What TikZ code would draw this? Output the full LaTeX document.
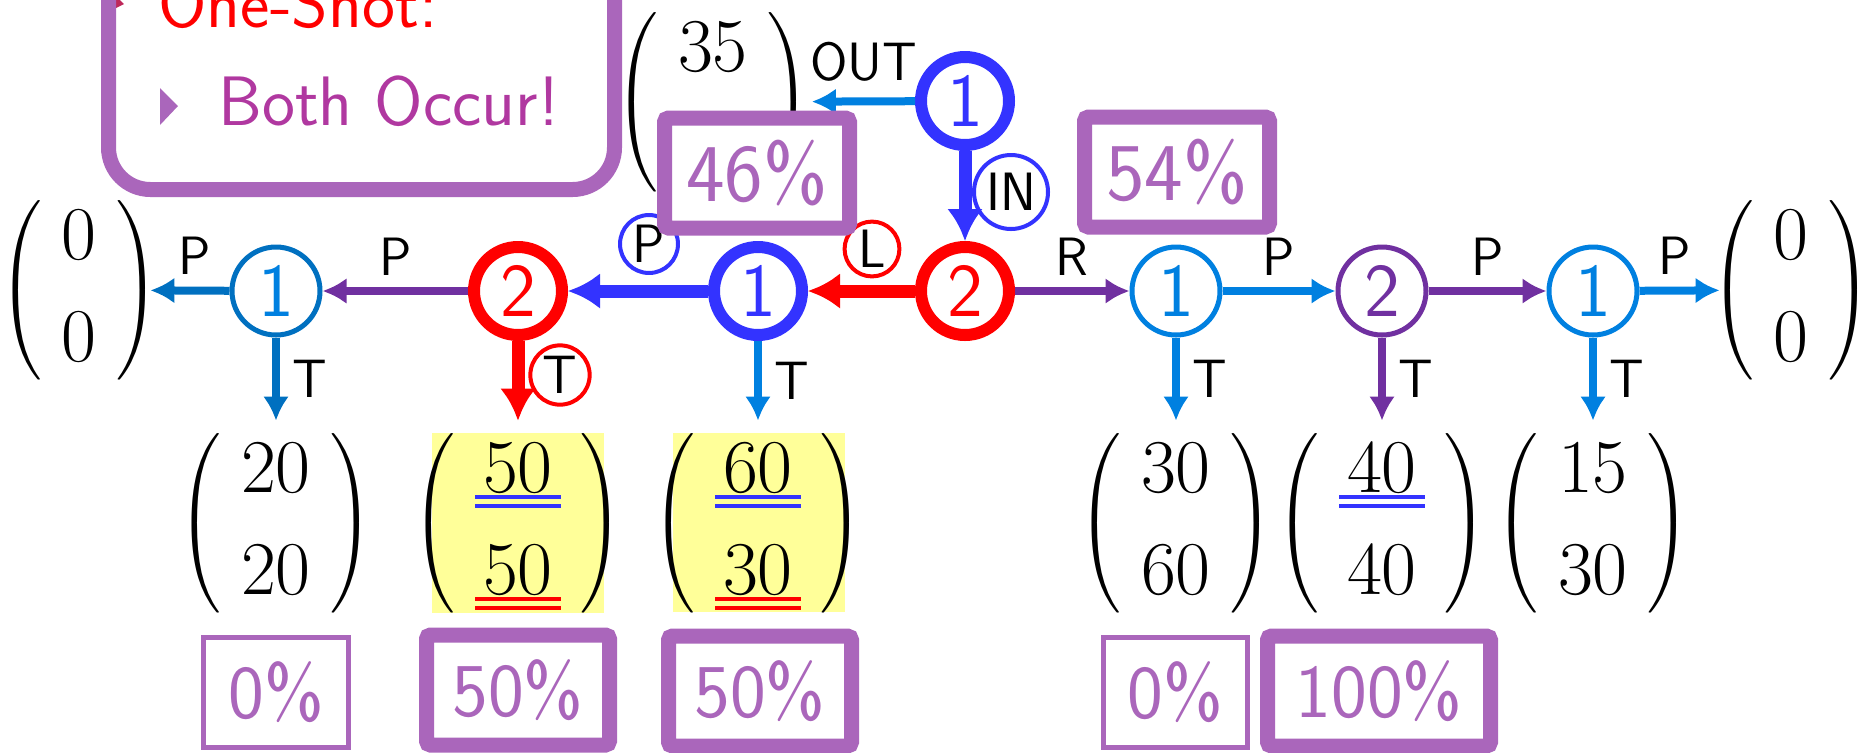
\RequirePackage{fix-cm}
\documentclass[tikz,border=0pt]{standalone}
\usepackage{amsmath}
\usetikzlibrary{arrows.meta}

\definecolor{boxpurple}{RGB}{170,102,187}
\definecolor{occur}{RGB}{176,56,160}
\definecolor{bulletred}{RGB}{190,40,90}
\definecolor{deepblue}{RGB}{51,51,255}
\definecolor{midblue}{RGB}{0,112,192}
\definecolor{skyblue}{RGB}{0,128,224}
\definecolor{plum}{RGB}{112,48,160}
\definecolor{hiyellow}{RGB}{255,255,153}

\newcommand{\stfont}{\sffamily\fontsize{38}{40}\selectfont}
\newcommand{\lbfont}{\sffamily\fontsize{27}{29}\selectfont}
\newcommand{\pcfont}{\sffamily\fontsize{38}{40}\selectfont}
\newcommand{\bulletfont}{\sffamily\fontsize{35}{40}\selectfont}
\newcommand{\colfont}{\fontsize{38}{51}\selectfont\delimiterfactor=850 \delimitershortfall=20pt }
\newcommand{\twovec}[2]{$\left(\hspace{10pt}\begin{matrix}#1\\#2\end{matrix}\hspace{10pt}\right)$}
% double underline in colour
\newcommand{\dul}[2]{\vtop{\hbox{\kern4pt$#2$\kern4pt}\kern1.5pt{\color{#1}\hrule height2pt\kern2.5pt\hrule height2pt}}}

\begin{document}
\begin{tikzpicture}[x=0.5pt,y=-0.5pt,
  st/.style={circle,draw,line width=2.5pt,minimum size=44pt,inner sep=0pt,font=\stfont},
  bold/.style={line width=6pt},
  arr/.style={line width=4pt,-{Latex[length=12pt,width=13pt]}},
  barr/.style={line width=6.5pt,-{Latex[length=16pt,width=18pt]}},
  lbl/.style={font=\lbfont,text=black,inner sep=2pt},
  clbl/.style={lbl,circle,draw,line width=2pt,inner sep=1.5pt},
  pct/.style={draw=boxpurple,text=boxpurple,fill=white,font=\pcfont,line width=2.5pt,minimum height=55pt,inner sep=0pt},
  bpct/.style={pct,line width=7.5pt,rounded corners=2pt},
  vec/.style={inner sep=0pt,font=\colfont}]
  \useasboundingbox (0,0) rectangle (1864,752);

  % Highlighted columns.
  \fill[hiyellow] (432,433) rectangle (604,613);
  \fill[hiyellow] (673,433) rectangle (845,612);

  % Item box in the corner.
  \fill[bulletred] (104,-16) -- (124,4) -- (104,14) -- cycle;
  \draw[boxpurple,line width=7.5pt,rounded corners=21pt] (108.5,-200) rectangle (614.5,189.5);
  \node[anchor=base west,inner sep=0pt,text=red,font=\bulletfont] (oneshot) at (158,27) {One-Shot:};
  \fill[boxpurple] (160,88) -- (178,106) -- (160,125) -- cycle;
  \node[anchor=base west,inner sep=0pt,text=occur,font=\bulletfont] (both) at (218,125) {Both Occur!};

  % Payoff vectors.
  \node[vec] (vtop) at (713,102) {\twovec{35}{\phantom{35}}};
  \node[vec] (vleft) at (79,290) {\twovec{0}{0}};
  \node[vec] (vright) at (1791,290) {\twovec{0}{0}};
  \node[vec] (w1) at (276,523) {\twovec{20}{20}};
  \node[vec] (w2) at (518,523) {\twovec{\dul{deepblue}{50}}{\dul{red}{50}}};
  \node[vec] (w3) at (758,523) {\twovec{\dul{deepblue}{60}}{\dul{red}{30}}};
  \node[vec] (w4) at (1176,523) {\twovec{30}{60}};
  \node[vec] (w5) at (1382,523) {\twovec{\dul{deepblue}{40}}{40}};
  \node[vec] (w6) at (1593,523) {\twovec{15}{30}};

  % Decision nodes.
  \node[st,draw=deepblue,text=deepblue,bold] (b1) at (965,101) {1};
  \node[st,draw=midblue,text=skyblue] (a1) at (276,291) {1};
  \node[st,draw=red,text=red,bold] (a2) at (518,291) {2};
  \node[st,draw=deepblue,text=deepblue,bold] (a3) at (758,291) {1};
  \node[st,draw=red,text=red,bold] (a4) at (965,291) {2};
  \node[st,draw=skyblue,text=skyblue] (c1) at (1176,291) {1};
  \node[st,draw=plum,text=plum] (c2) at (1382,291) {2};
  \node[st,draw=skyblue,text=skyblue] (c3) at (1593,291) {1};

  % Moves along the row.
  \draw[arr,midblue,shorten >=-5pt] (a1) -- (vleft) node[lbl,midway,above=4pt] (p1) {P};
  \draw[arr,plum] (a2) -- (a1) node[lbl,midway,above=4pt] (p2) {P};
  \draw[barr,deepblue] (a3) -- (a2);
  \draw[barr,red] (a4) -- (a3);
  \draw[arr,plum] (a4) -- (c1) node[lbl,midway,above=4pt] (r1) {R};
  \draw[arr,skyblue] (c1) -- (c2) node[lbl,midway,above=4pt] (p3) {P};
  \draw[arr,plum] (c2) -- (c3) node[lbl,midway,above=4pt] (p4) {P};
  \draw[arr,skyblue,shorten >=-5pt] (c3) -- (vright) node[lbl,midway,above=4pt] (p5) {P};

  % Moves at the top.
  \draw[arr,skyblue] (b1) -- (vtop) node[lbl,midway,above=6pt] (out) {OUT};
  \draw[barr,deepblue] (b1) -- (a4);

  % Take moves.
  \draw[arr,midblue] (a1) -- (w1) node[lbl,midway,right=4pt] (t1) {T};
  \draw[barr,red] (a2) -- (w2);
  \draw[arr,skyblue] (a3) -- (w3) node[lbl,midway,right=4pt] (t3) {T};
  \draw[arr,skyblue] (c1) -- (w4) node[lbl,midway,right=4pt] (t4) {T};
  \draw[arr,plum] (c2) -- (w5) node[lbl,midway,right=4pt] (t5) {T};
  \draw[arr,skyblue] (c3) -- (w6) node[lbl,midway,right=4pt] (t6) {T};

  % Circled labels.
  \node[clbl,draw=deepblue,minimum size=37pt,inner sep=1pt] (lin) at (1011,192) {IN};
  \node[clbl,draw=deepblue] (lp) at (649,244) {P};
  \node[clbl,draw=red] (ll) at (872,249) {L};
  \node[clbl,draw=red] (lt) at (560,375) {T};

  % Shares.
  \node[bpct,minimum width=92.5pt,font=\sffamily\fontsize{41}{43}\selectfont] (s1) at (757,173) {46\%};
  \node[bpct,minimum width=92.5pt,font=\sffamily\fontsize{41}{43}\selectfont] (s2) at (1177,172) {54\%};
  \node[pct,minimum width=72.5pt] (q1) at (276,692) {0\%};
  \node[bpct,minimum width=91.5pt] (q2) at (518,690) {50\%};
  \node[bpct,minimum width=91.5pt] (q3) at (760,691) {50\%};
  \node[pct,minimum width=72pt] (q4) at (1175,692) {0\%};
  \node[bpct,minimum width=111.5pt] (q5) at (1379,691) {100\%};
\end{tikzpicture}
\end{document}
